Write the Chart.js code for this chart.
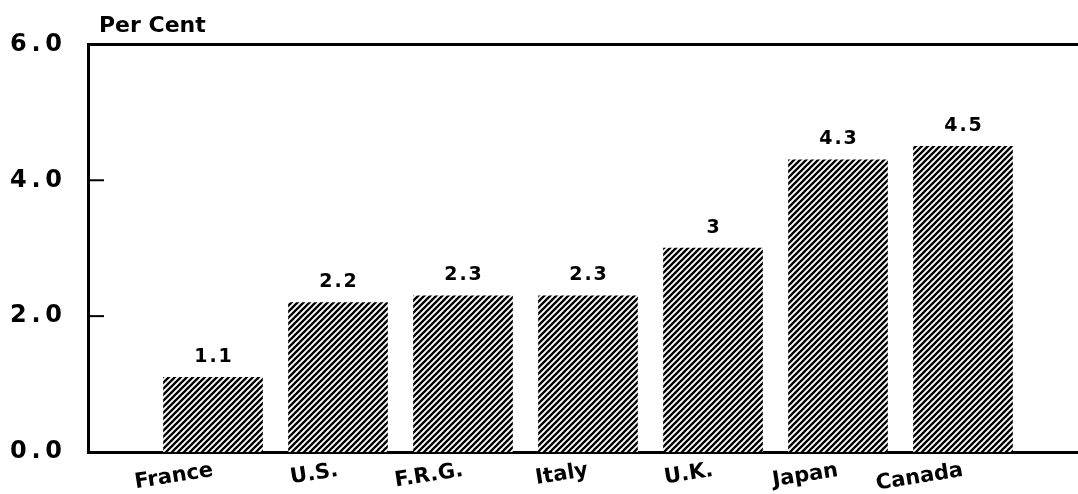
<!DOCTYPE html>
<html>
<head>
<meta charset="utf-8">
<script src="https://cdn.jsdelivr.net/npm/chart.js@4.4.1/dist/chart.umd.min.js"></script>
<style>
  html, body { margin: 0; padding: 0; background: #fff; }
  #chart { display: block; }
</style>
</head>
<body>
<canvas id="chart" width="1078" height="494"></canvas>
<script>
// values
var countries = ['France', 'U.S.', 'F.R.G.', 'Italy', 'U.K.', 'Japan', 'Canada'];
var values = [1.1, 2.2, 2.3, 2.3, 3, 4.3, 4.5];
var valueLabels = ['1.1', '2.2', '2.3', '2.3', '3', '4.3', '4.5'];
var yTicks = [0, 2, 4, 6];

var FONT = "'DejaVu Sans', sans-serif";

function hatch(){
    var c = document.createElement('canvas');
    c.width = 6; c.height = 6;
    var ctx = c.getContext('2d');
    ctx.fillStyle = '#fff';
    ctx.fillRect(0, 0, 6, 6);
    ctx.strokeStyle = '#000';
    ctx.lineWidth = 2.3;
    ctx.beginPath();
    ctx.moveTo(-1, 7); ctx.lineTo(7, -1);
    ctx.moveTo(-4, 4); ctx.lineTo(4, -4);
    ctx.moveTo(2, 10); ctx.lineTo(10, 2);
    ctx.stroke();
    return ctx.createPattern(c, 'repeat');
}

// inner ticks on the left axis + value labels on top of bars
var extras = {
    id: 'extras',
    afterDatasetsDraw: function(chart){
        var ctx = chart.ctx;
        var area = chart.chartArea;
        var y = chart.scales.y;
        ctx.save();
        ctx.strokeStyle = '#000';
        ctx.lineWidth = 2;
        [2, 4].forEach(function(v){
            var py = y.getPixelForValue(v);
            ctx.beginPath();
            ctx.moveTo(area.left, py);
            ctx.lineTo(area.left + 16, py);
            ctx.stroke();
        });
        ctx.fillStyle = '#000';
        ctx.font = 'bold 19px ' + FONT;
        ctx.letterSpacing = '2px';
        ctx.textAlign = 'center';
        ctx.textBaseline = 'bottom';
        chart.getDatasetMeta(0).data.forEach(function(bar, i){
            ctx.fillText(valueLabels[i], bar.x + 1, bar.y - 11);
        });
        ctx.restore();
    }
};

var data = values.map(function(v, i){ return {x: i + 1, y: v}; });

new Chart(document.getElementById('chart'), {
    type: 'bar',
    data: {
        datasets: [{
            data: data,
            backgroundColor: hatch(),
            borderWidth: 0,
            barThickness: 99
        }]
    },
    options: {
        responsive: false,
        animation: false,
        devicePixelRatio: 1,
        layout: { padding: { left: 0, right: 0, top: 0, bottom: 0 } },
        plugins: {
            legend: { display: false },
            tooltip: { enabled: false },
            title: {
                display: true,
                text: '\u2002Per Cent',
                align: 'start',
                fullSize: false,
                color: '#000',
                font: { family: FONT, size: 22, weight: 'bold' },
                padding: { top: 13, bottom: 5 }
            }
        },
        scales: {
            x: {
                type: 'linear',
                offset: false,
                min: 0,
                max: 7.92,
                afterBuildTicks: function(scale){
                    scale.ticks = countries.map(function(c, i){ return {value: i + 1}; });
                },
                afterFit: function(scale){ scale.height = 42; },
                grid: { display: false, offset: false },
                border: { display: true, color: '#000', width: 3 },
                ticks: {
                    autoSkip: false,
                    minRotation: 9,
                    maxRotation: 9,
                    padding: -2,
                    color: '#000',
                    font: { family: FONT, size: 21, weight: 'bold' },
                    callback: function(v){ return countries[v - 1] || ''; }
                }
            },
            xTop: {
                type: 'linear',
                position: 'top',
                offset: false,
                min: 0,
                max: 7.92,
                afterFit: function(scale){ scale.height = 0; },
                grid: { display: false },
                border: { display: true, color: '#000', width: 3 },
                ticks: { display: false }
            },
            y: {
                min: 0,
                max: 6,
                afterBuildTicks: function(scale){
                    scale.ticks = yTicks.map(function(v){ return {value: v}; });
                },
                afterFit: function(scale){ scale.width = 88; },
                grid: { display: false },
                border: { display: true, color: '#000', width: 3 },
                ticks: {
                    padding: 18,
                    color: '#000',
                    font: { family: FONT, size: 24, weight: 'bold' },
                    callback: function(v){ return v.toFixed(1).split('').join('\u2009'); }
                }
            }
        }
    },
    plugins: [extras]
});
</script>
</body>
</html>
